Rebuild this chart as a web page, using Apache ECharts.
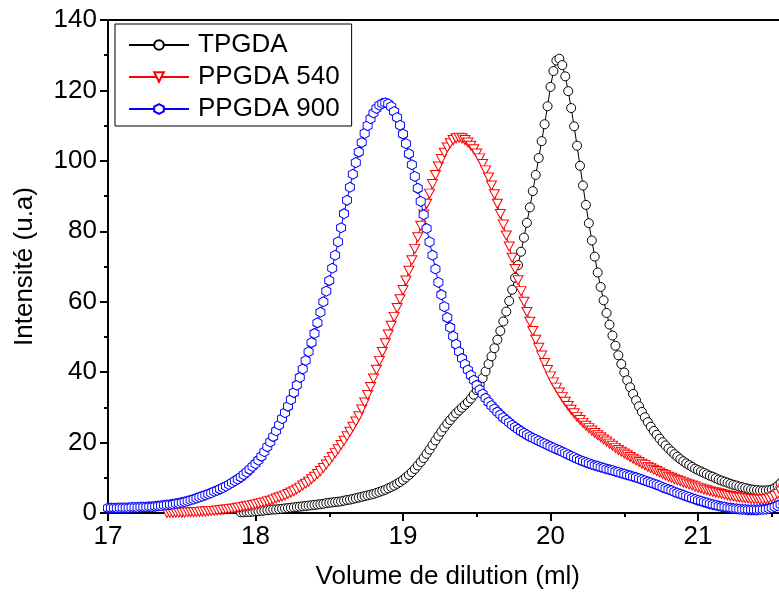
<!DOCTYPE html>
<html>
<head>
<meta charset="utf-8">
<script src="https://cdn.jsdelivr.net/npm/echarts@6/dist/echarts.min.js"></script>
<style>html,body{margin:0;padding:0;background:#fff}#c{width:779px;height:599px}</style>
</head>
<body>
<div id="c"></div>
<script>
// Elution volume (ml), shared by all three series
const volume = [
17.00,17.02,17.04,17.06,17.08,17.10,17.12,17.14,17.16,17.18,
17.20,17.22,17.24,17.26,17.28,17.30,17.32,17.34,17.36,17.38,
17.40,17.42,17.44,17.46,17.48,17.50,17.52,17.54,17.56,17.58,
17.60,17.62,17.64,17.66,17.68,17.70,17.72,17.74,17.76,17.78,
17.80,17.82,17.84,17.86,17.88,17.90,17.92,17.94,17.96,17.98,
18.00,18.02,18.04,18.06,18.08,18.10,18.12,18.14,18.16,18.18,
18.20,18.22,18.24,18.26,18.28,18.30,18.32,18.34,18.36,18.38,
18.40,18.42,18.44,18.46,18.48,18.50,18.52,18.54,18.56,18.58,
18.60,18.62,18.64,18.66,18.68,18.70,18.72,18.74,18.76,18.78,
18.80,18.82,18.84,18.86,18.88,18.90,18.92,18.94,18.96,18.98,
19.00,19.02,19.04,19.06,19.08,19.10,19.12,19.14,19.16,19.18,
19.20,19.22,19.24,19.26,19.28,19.30,19.32,19.34,19.36,19.38,
19.40,19.42,19.44,19.46,19.48,19.50,19.52,19.54,19.56,19.58,
19.60,19.62,19.64,19.66,19.68,19.70,19.72,19.74,19.76,19.78,
19.80,19.82,19.84,19.86,19.88,19.90,19.92,19.94,19.96,19.98,
20.00,20.02,20.04,20.06,20.08,20.10,20.12,20.14,20.16,20.18,
20.20,20.22,20.24,20.26,20.28,20.30,20.32,20.34,20.36,20.38,
20.40,20.42,20.44,20.46,20.48,20.50,20.52,20.54,20.56,20.58,
20.60,20.62,20.64,20.66,20.68,20.70,20.72,20.74,20.76,20.78,
20.80,20.82,20.84,20.86,20.88,20.90,20.92,20.94,20.96,20.98,
21.00,21.02,21.04,21.06,21.08,21.10,21.12,21.14,21.16,21.18,
21.20,21.22,21.24,21.26,21.28,21.30,21.32,21.34,21.36,21.38,
21.40,21.42,21.44,21.46,21.48,21.50,21.52,21.54,21.56,21.58,
21.60];

const tpgda = [
null,null,null,null,null,null,null,null,null,null,
null,null,null,null,null,null,null,null,null,null,
null,null,null,null,null,null,null,null,null,null,
null,null,null,null,null,null,null,null,null,null,
null,null,null,null,null,0.2,0.2,0.3,0.3,0.4,
0.5,0.5,0.6,0.7,0.8,0.9,1.0,1.0,1.1,1.2,
1.3,1.4,1.5,1.6,1.7,1.8,1.9,2.0,2.1,2.2,
2.3,2.4,2.5,2.6,2.8,2.9,3.0,3.1,3.2,3.3,
3.5,3.7,3.8,4.0,4.2,4.4,4.6,4.8,5.0,5.2,
5.4,5.7,6.0,6.3,6.6,7.0,7.4,7.8,8.3,8.8,
9.4,10.1,10.8,11.6,12.5,13.5,14.5,15.6,16.8,18.0,
19.3,20.6,21.9,23.1,24.3,25.4,26.4,27.4,28.3,29.1,
29.9,30.7,31.5,32.5,33.6,34.9,36.5,38.3,40.2,42.3,
44.5,46.8,49.2,51.7,54.4,57.2,60.2,63.4,66.8,70.4,
74.2,78.2,82.4,86.8,91.4,96.0,100.8,105.6,110.4,115.5,
121.0,125.5,128.5,129.0,127.2,124.0,119.8,115.0,109.8,104.3,
98.6,93.0,87.5,82.3,77.4,72.8,68.3,64.2,60.4,56.8,
53.5,50.4,47.5,44.8,42.3,39.9,37.7,35.7,33.8,32.0,
30.3,28.7,27.2,25.8,24.5,23.3,22.2,21.1,20.1,19.2,
18.3,17.5,16.7,16.0,15.3,14.7,14.1,13.6,13.1,12.6,
12.2,11.8,11.4,11.0,10.6,10.3,9.9,9.5,9.2,8.9,
8.6,8.3,8.0,7.8,7.5,7.3,7.1,6.9,6.7,6.6,
6.5,6.4,6.4,6.4,6.5,6.7,7.1,7.7,8.5,9.4,
10.3];

const ppgda540 = [
null,null,null,null,null,null,null,null,null,null,
null,null,null,null,null,null,null,null,null,null,
0.0,0.0,0.0,0.1,0.1,0.1,0.1,0.2,0.2,0.2,
0.3,0.3,0.4,0.4,0.5,0.6,0.6,0.7,0.8,0.9,
1.0,1.1,1.2,1.3,1.5,1.6,1.8,1.9,2.1,2.2,
2.4,2.6,2.8,3.0,3.3,3.5,3.8,4.1,4.4,4.7,
5.0,5.4,5.8,6.2,6.7,7.2,7.8,8.3,8.9,9.6,
10.3,11.1,11.9,12.8,13.8,14.8,15.9,17.0,18.1,19.3,
20.5,21.8,23.1,24.5,26.0,27.5,29.4,31.4,33.5,35.8,
38.2,40.7,43.2,45.7,48.2,50.7,53.2,55.7,58.2,60.7,
63.3,66.0,68.8,71.8,75.0,78.3,81.6,84.8,87.8,90.7,
93.4,96.0,98.4,100.5,102.3,103.8,105.0,105.9,106.4,106.6,
106.4,105.9,105.2,104.3,103.3,102.1,100.7,99.1,97.3,95.3,
93.0,90.5,87.8,84.9,81.9,78.8,75.7,72.5,69.3,66.1,
63.0,60.0,57.1,54.3,51.7,49.2,46.9,44.7,42.6,40.6,
38.8,37.1,35.6,34.2,32.9,31.6,30.4,29.3,28.3,27.3,
26.4,25.6,24.8,24.1,23.4,22.7,22.1,21.5,20.9,20.3,
19.7,19.1,18.5,17.9,17.4,16.9,16.4,15.9,15.4,14.9,
14.5,14.0,13.6,13.1,12.7,12.3,11.9,11.5,11.1,10.7,
10.3,10.0,9.6,9.3,9.0,8.7,8.4,8.1,7.8,7.5,
7.2,7.0,6.7,6.5,6.2,6.0,5.8,5.6,5.4,5.2,
5.0,4.8,4.7,4.5,4.4,4.3,4.2,4.1,4.0,3.9,
3.9,3.8,3.8,3.9,4.1,4.4,4.8,5.4,6.1,6.9,
7.7];

const ppgda900 = [
1.4,1.4,1.4,1.4,1.5,1.5,1.5,1.5,1.6,1.6,
1.6,1.7,1.7,1.7,1.8,1.8,1.9,2.0,2.1,2.2,
2.3,2.4,2.5,2.7,2.8,3.0,3.2,3.4,3.7,3.9,
4.2,4.5,4.8,5.1,5.4,5.7,6.1,6.4,6.8,7.2,
7.6,8.1,8.6,9.1,9.6,10.2,10.9,11.6,12.4,13.2,
14.0,15.0,16.1,17.4,18.8,20.2,21.7,23.3,25.0,26.8,
28.5,30.3,32.2,34.2,36.3,38.5,40.9,43.3,45.8,48.4,
51.0,54.0,57.0,60.0,63.0,66.0,69.5,73.2,77.0,81.0,
85.0,88.8,92.5,96.2,99.5,102.5,105.2,107.8,110.0,112.0,
113.6,114.9,115.8,116.3,116.5,116.2,115.4,114.0,112.3,110.1,
107.6,104.9,102.0,98.9,95.6,92.2,88.5,84.7,80.8,77.0,
73.2,69.3,65.5,62.0,58.6,55.5,52.7,50.2,47.9,45.8,
43.9,42.2,40.6,39.1,37.7,36.3,35.0,33.8,32.6,31.5,
30.5,29.6,28.7,27.9,27.1,26.4,25.7,25.0,24.4,23.8,
23.2,22.7,22.2,21.7,21.3,20.9,20.5,20.1,19.7,19.3,
18.9,18.5,18.1,17.8,17.4,17.0,16.6,16.2,15.8,15.4,
15.0,14.7,14.4,14.1,13.8,13.5,13.3,13.0,12.8,12.5,
12.3,12.1,11.8,11.6,11.3,11.1,10.8,10.6,10.3,10.1,
9.8,9.5,9.2,8.9,8.6,8.3,8.0,7.7,7.3,7.0,
6.7,6.4,6.0,5.7,5.4,5.1,4.8,4.5,4.2,3.9,
3.6,3.4,3.1,2.9,2.6,2.4,2.2,2.0,1.8,1.7,
1.5,1.4,1.3,1.2,1.1,1.0,1.0,0.9,0.9,0.9,
0.9,1.0,1.0,1.1,1.3,1.5,1.8,2.1,2.5,2.9,
3.3];

const seriesNames = ['TPGDA', 'PPGDA 540', 'PPGDA 900'];
const xTicks = [17, 18, 19, 20, 21];
const yTicks = [0, 20, 40, 60, 80, 100, 120, 140];

function pairs(ys) {
  const out = [];
  for (let i = 0; i < volume.length; i++) {
    if (ys[i] !== null && ys[i] !== undefined) out.push([volume[i], ys[i]]);
  }
  return out;
}

const FONT = '"Liberation Sans", Arial, Helvetica, sans-serif';
const FS = 26;
const chart = echarts.init(document.getElementById('c'), null, {renderer: 'canvas'});

function mkSeries(name, ys, color, symbol, size) {
  return {
    name: name,
    type: 'line',
    data: pairs(ys),
    showAllSymbol: true,
    symbol: symbol,
    symbolSize: size,
    sampling: null,
    clip: true,
    animation: false,
    lineStyle: {color: color, width: 1},
    itemStyle: {color: '#ffffff', borderColor: color, borderWidth: 1},
    emphasis: {disabled: true},
    z: 2
  };
}

chart.setOption({
  animation: false,
  backgroundColor: '#ffffff',
  textStyle: {fontFamily: FONT},
  grid: {
    left: 108, top: 20, width: 737.5, bottom: 86,
    containLabel: false,
    outerBoundsMode: 'none',
    show: true, borderColor: '#000', borderWidth: 2, backgroundColor: 'transparent'
  },
  legend: {
    orient: 'vertical',
    left: 115, top: 24,
    padding: [8, 12, 4, 13],
    itemGap: 6,
    itemWidth: 60,
    itemHeight: 12,
    borderColor: '#000',
    borderWidth: 1,
    backgroundColor: '#fff',
    data: seriesNames,
    textStyle: {fontSize: FS, color: '#000', fontFamily: FONT, padding: [0, 0, 0, 4]}
  },
  xAxis: {
    type: 'value',
    min: xTicks[0], max: 22, interval: 1,
    name: 'Volume de dilution (ml)',
    nameLocation: 'middle',
    nameGap: 51,
    nameTextStyle: {fontSize: FS, color: '#000', fontFamily: FONT, padding: [0, 58, 0, 0]},
    axisLine: {show: true, onZero: false, lineStyle: {color: '#000', width: 2}},
    axisTick: {show: true, inside: false, length: 8, lineStyle: {color: '#000', width: 2}},
    minorTick: {show: true, splitNumber: 2, length: 4, lineStyle: {color: '#000', width: 2}},
    splitLine: {show: false},
    minorSplitLine: {show: false},
    axisLabel: {fontSize: FS, color: '#000', margin: 11, fontFamily: FONT, showMaxLabel: false,
      formatter: function (v) { return xTicks.indexOf(v) >= 0 ? String(v) : ''; }}
  },
  yAxis: {
    type: 'value',
    min: yTicks[0], max: yTicks[yTicks.length - 1], interval: 20,
    name: 'Intensité (u.a)',
    nameLocation: 'middle',
    nameGap: 70,
    nameTextStyle: {fontSize: FS, color: '#000', fontFamily: FONT},
    axisLine: {show: true, onZero: false, lineStyle: {color: '#000', width: 2}},
    axisTick: {show: true, inside: false, length: 8, lineStyle: {color: '#000', width: 2}},
    minorTick: {show: true, splitNumber: 2, length: 4, lineStyle: {color: '#000', width: 2}},
    splitLine: {show: false},
    minorSplitLine: {show: false},
    axisLabel: {fontSize: FS, color: '#000', margin: 11, fontFamily: FONT}
  },
  series: [
    mkSeries(seriesNames[0], tpgda, '#000000', 'circle', 9),
    mkSeries(seriesNames[1], ppgda540, '#ff0000', 'path://M0,0L10,0L5,8.66Z', [10, 9]),
    mkSeries(seriesNames[2], ppgda900, '#0000ff', 'path://M5,0L9.33,2.5L9.33,7.5L5,10L0.67,7.5L0.67,2.5Z', [9, 10])
  ]
});
</script>
</body>
</html>
